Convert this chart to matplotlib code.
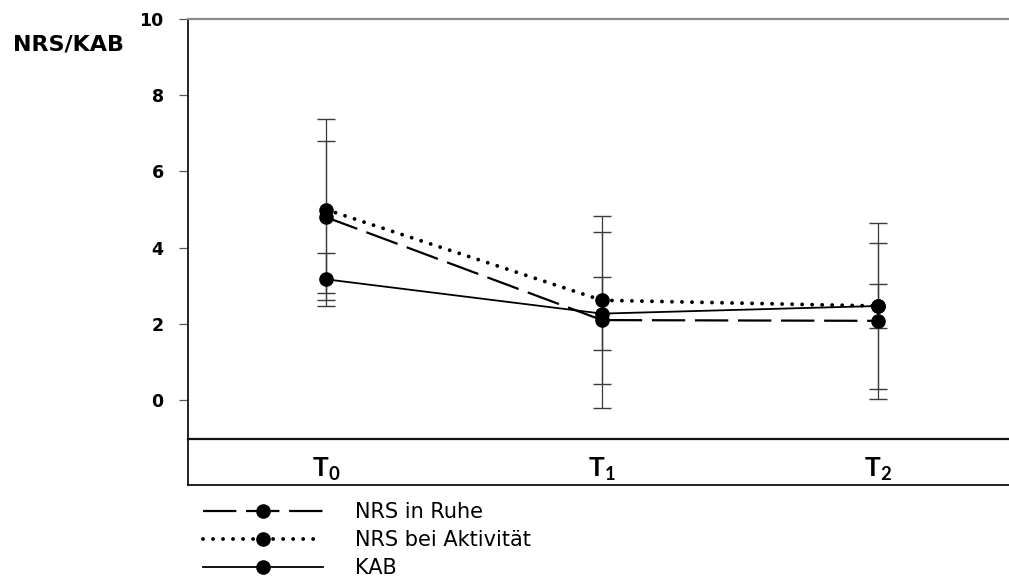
import matplotlib
matplotlib.use("Agg")
import matplotlib.pyplot as plt

plt.rcParams["lines.scale_dashes"] = False
plt.rcParams["mathtext.fontset"] = "custom"
plt.rcParams["mathtext.rm"] = "Lato:bold"
plt.rcParams["mathtext.it"] = "Lato:bold"

# Measurement time points
timepoints = [r"$\mathregular{T_0}$", r"$\mathregular{T_1}$", r"$\mathregular{T_2}$"]

# NRS at rest
nrs_ruhe = [4.80, 2.10, 2.08]
nrs_ruhe_sd = [2.00, 2.30, 2.04]

# NRS during activity
nrs_aktiv = [5.00, 2.62, 2.47]
nrs_aktiv_sd = [2.37, 2.21, 2.17]

# KAB score
kab = [3.17, 2.27, 2.47]
kab_sd = [0.70, 0.95, 0.57]

y_ticks = [0, 2, 4, 6, 8, 10]
series_labels = ["NRS in Ruhe", "NRS bei Aktivität", "KAB"]

W, H = 1009, 587
fig = plt.figure(figsize=(W / 100, H / 100), dpi=100)

# main plotting area
ax_left, ax_top, ax_bottom = 188, 19, 439
ax_right = 1016
ax = fig.add_axes([ax_left / W, 1 - ax_bottom / H,
                   (ax_right - ax_left) / W, (ax_bottom - ax_top) / H])

# category box under the plot (transparent, frame only)
box_bottom = 485
bx = fig.add_axes([ax_left / W, 1 - box_bottom / H,
                   (ax_right - ax_left) / W, (box_bottom - ax_bottom) / H])
bx.set_facecolor("none")
bx.set_xticks([])
bx.set_yticks([])
for s in bx.spines.values():
    s.set_linewidth(1.3)
    s.set_color("#111111")
ax.set_zorder(bx.get_zorder() + 1)

x = list(range(len(timepoints)))

styles = [
    dict(data=nrs_ruhe, sd=nrs_ruhe_sd, ls=(0, (24, 7)), lw=1.6, cap="butt"),
    dict(data=nrs_aktiv, sd=nrs_aktiv_sd, ls=(0, (0.01, 7.2)), lw=2.8, cap="round"),
    dict(data=kab, sd=kab_sd, ls="-", lw=1.3, cap="butt"),
]

handles = []
for st in styles:
    ax.errorbar(x, st["data"], yerr=st["sd"], fmt="none", ecolor="#3a3a3a",
                elinewidth=0.9, capsize=6.8, capthick=1.0, zorder=2)
for st in styles:
    (ln,) = ax.plot(x, st["data"], color="black", linestyle=st["ls"], lw=st["lw"],
                    marker="o", markersize=9.5, markerfacecolor="black",
                    markeredgecolor="black", zorder=3)
    ln.set_dash_capstyle(st["cap"])
    handles.append(ln)

ax.set_xlim(-0.5, 2.5)
ax.set_ylim(-1.02, 10)
ax.set_yticks(y_ticks)
ax.set_yticklabels([str(t) for t in y_ticks], fontfamily="DejaVu Sans",
                   fontweight="bold", fontsize=12.5)
ax.tick_params(axis="y", direction="out", length=6.5, width=0.9, color="#555555", pad=11)

ax.set_xticks(x)
ax.set_xticklabels(timepoints, fontsize=19, fontfamily="Lato", fontweight="bold")
ax.tick_params(axis="x", length=0, pad=12)

ax.spines["right"].set_visible(False)
ax.spines["top"].set_color("#8a8a8a")
ax.spines["top"].set_linewidth(1.6)
ax.spines["left"].set_linewidth(1.3)
ax.spines["left"].set_color("#111111")
ax.spines["bottom"].set_linewidth(1.6)
ax.spines["bottom"].set_color("#111111")

fig.text(13 / W, 1 - 45 / H, "NRS/KAB", fontfamily="DejaVu Sans", fontweight="bold",
         fontsize=16, va="center", ha="left")

fig.legend(handles, series_labels, loc="upper left",
           bbox_to_anchor=(203 / W, 1 - 502 / H), frameon=False,
           prop=dict(family="DejaVu Sans", size=15), handlelength=5.75,
           handletextpad=1.55, labelspacing=0.38, numpoints=1,
           borderaxespad=0, borderpad=0)

fig.savefig("out.png", dpi=100)
